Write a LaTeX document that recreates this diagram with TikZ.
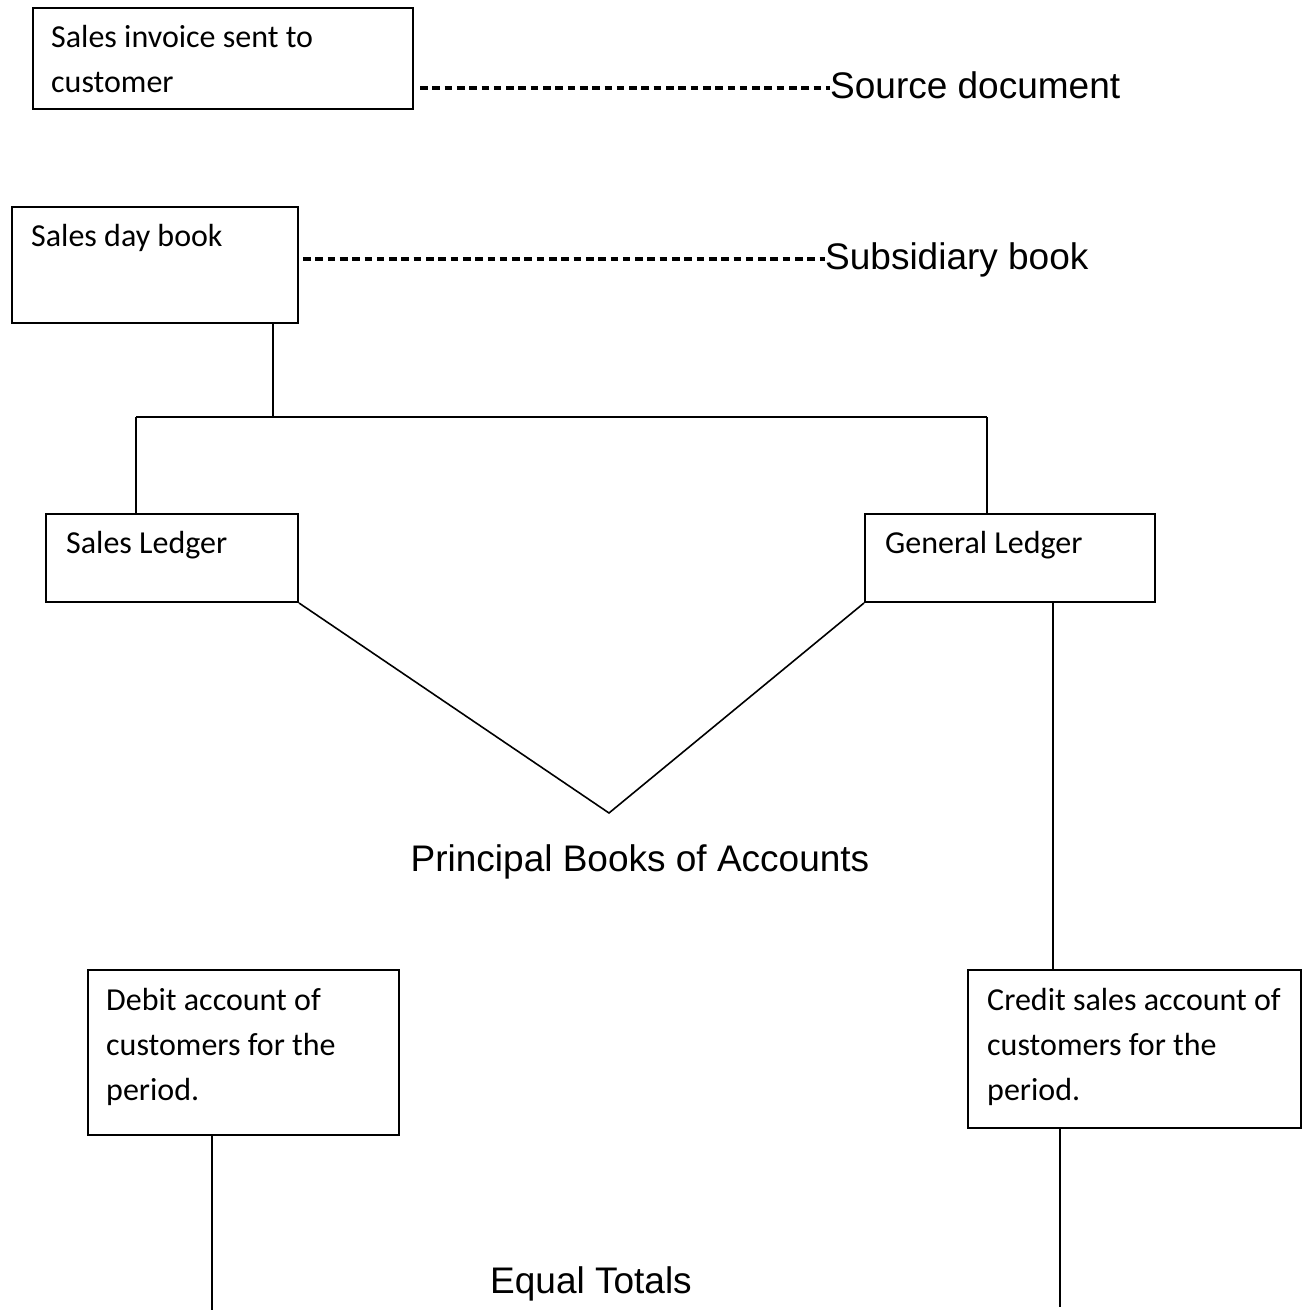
\documentclass[tikz,border=0pt]{standalone}
\usepackage{fontspec}
\newfontfamily\calib{Carlito}
\newfontfamily\arial{Liberation Sans}
\begin{document}
\begin{tikzpicture}[x=1pt,y=-1pt,
  box/.style={draw=black, line width=2pt, inner sep=0pt, anchor=north west},
  boxtext/.style={inner sep=0pt, anchor=base west, align=left, font=\calib\fontsize{32}{45}\selectfont},
  bigtext/.style={inner sep=0pt, font=\arial\fontsize{37}{44}\selectfont},
  link/.style={line width=1.6pt},
  dashline/.style={line width=3.2pt, dash pattern=on 7.6pt off 4.7pt}]
\path[use as bounding box, fill=white] (0,0) rectangle (1302,1310);

% boxes
\node[box, minimum width=380, minimum height=101] (inv) at (32,7) {};
\node[box, minimum width=286, minimum height=116] (sdb) at (11,206) {};
\node[box, minimum width=252, minimum height=88] (sl) at (45,513) {};
\node[box, minimum width=290, minimum height=88] (gl) at (864,513) {};
\node[box, minimum width=311, minimum height=165] (deb) at (87,969) {};
\node[box, minimum width=333, minimum height=158] (cre) at (967,969) {};

% box texts (base anchor = baseline of the last line)
\node[boxtext] (invt) at (51,92) {Sales invoice sent to\\customer};
\node[boxtext] (sdbt) at (31,246) {Sales day book};
\node[boxtext] (slt) at (66,553) {Sales Ledger};
\node[boxtext] (glt) at (885,553) {General Ledger};
\node[boxtext] (debt) at (106,1100) {Debit account of\\customers for the\\period.};
\node[boxtext] (cret) at (987,1100) {Credit sales account of\\customers for the\\period.};

% labels
\node[bigtext, anchor=base west] (src) at (830,98) {Source document};
\node[bigtext, anchor=base west] (sub) at (825,269) {Subsidiary book};
\node[bigtext, anchor=base] (pba) at (640,871) {Principal Books of Accounts};
\node[bigtext, anchor=base west] (eqt) at (490,1293) {Equal Totals};

% dashed leaders
\coordinate (d1) at (420,88);
\coordinate (d2) at (303,259);
\draw[dashline] (d1) -- (d1 -| src.west);
\draw[dashline] (d2) -- (d2 -| sub.west);

% tree connectors
\coordinate (split) at (273,417);
\coordinate (jl) at (136,417);
\coordinate (jr) at (987,417);
\draw[link] (split |- sdb.south) -- (split);
\draw[line width=2.2pt] (jl) -- (jr);
\draw[link] (jl) -- (jl |- sl.north);
\draw[link] (jr) -- (jr |- gl.north);

% V to principal books
\coordinate (apex) at (609,813);
\draw[link] (sl.south east) -- (apex) -- (gl.south west);

% general ledger to credit box
\coordinate (gldrop) at (1053,601);
\draw[link] (gldrop |- gl.south) -- (gldrop |- cre.north);

% bottom legs
\coordinate (dleg) at (212,1310);
\coordinate (cleg) at (1060,1307);
\draw[link] (dleg |- deb.south) -- (dleg);
\draw[link] (cleg |- cre.south) -- (cleg);
\end{tikzpicture}
\end{document}
